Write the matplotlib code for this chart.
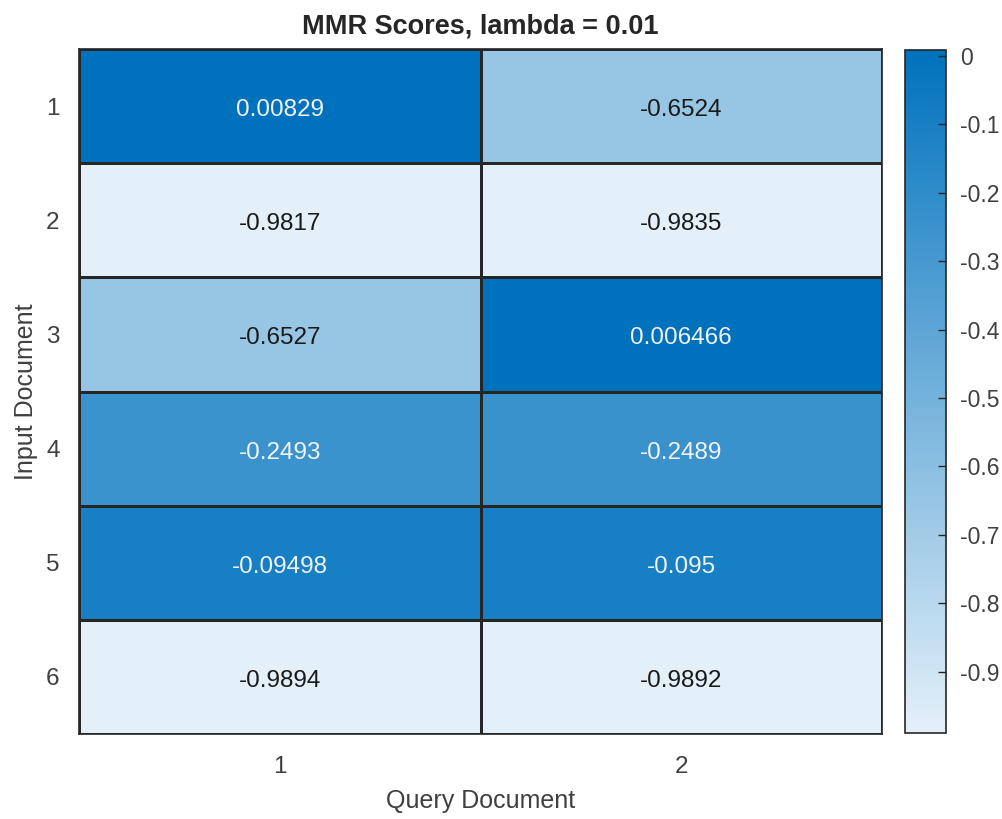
import numpy as np
import matplotlib
matplotlib.use('Agg')
import matplotlib.pyplot as plt
import matplotlib.transforms as mtransforms
from matplotlib.colors import LinearSegmentedColormap

# MMR score table (rows: input documents, columns: query documents)
input_docs = ['1', '2', '3', '4', '5', '6']
query_docs = ['1', '2']
scores_q1 = [0.00829, -0.9817, -0.6527, -0.2493, -0.09498, -0.9894]
scores_q2 = [-0.6524, -0.9835, 0.006466, -0.2489, -0.095, -0.9892]
labels_q1 = ['0.00829', '-0.9817', '-0.6527', '-0.2493', '-0.09498', '-0.9894']
labels_q2 = ['-0.6524', '-0.9835', '0.006466', '-0.2489', '-0.095', '-0.9892']
cbar_ticks = [0, -0.1, -0.2, -0.3, -0.4, -0.5, -0.6, -0.7, -0.8, -0.9]

plt.rcParams['font.family'] = ['Liberation Sans', 'DejaVu Sans']

data = np.column_stack([scores_q1, scores_q2])
labels = np.column_stack([labels_q1, labels_q2])

# matlab heatmap style blue ramp
cmap = LinearSegmentedColormap.from_list(
    'mblue', [(228/255, 240/255, 249/255), (0/255, 114/255, 189/255)])
vmin, vmax = data.min(), data.max()

fig = plt.figure(figsize=(10.02, 8.19), dpi=100)
ax = fig.add_axes([79/1002, 1 - 734/819, 803/1002, 685/819])
mesh = ax.pcolormesh(data, cmap=cmap, vmin=vmin, vmax=vmax,
                     edgecolors='#262626', linewidth=0.8)
ax.set_xlim(0, len(query_docs))
ax.set_ylim(len(input_docs), 0)

# small downward nudge so text sits like matlab's
nudge = mtransforms.ScaledTranslation(0, -4/100, fig.dpi_scale_trans)

for i in range(len(input_docs)):
    for j in range(len(query_docs)):
        t = (data[i, j] - vmin) / (vmax - vmin)
        col = '#f2f2f2' if t > 0.55 else '#1a1a1a'
        ax.text(j + 0.5, i + 0.5, labels[i, j], ha='center', va='center',
                fontsize=17.5, color=col, transform=ax.transData + nudge)

ax.set_xticks(np.arange(len(query_docs)) + 0.5)
ax.set_xticklabels(query_docs)
ax.set_yticks(np.arange(len(input_docs)) + 0.5)
ax.set_yticklabels(input_docs)
for lab in ax.get_yticklabels():
    lab.set_transform(lab.get_transform() + nudge)
ax.tick_params(axis='both', length=0, labelsize=17.5, colors='#404040')
ax.tick_params(axis='y', pad=14)
ax.tick_params(axis='x', pad=16)
for s in ax.spines.values():
    s.set_color('#262626')
    s.set_linewidth(1.2)
ax.set_xlabel('Query Document', fontsize=18, color='#404040', labelpad=8)
ax.set_ylabel('Input Document', fontsize=18, color='#404040', labelpad=6)
ax.set_title('MMR Scores, lambda = 0.01', fontsize=19.5, fontweight='bold',
             color='#262626', pad=11)

cax = fig.add_axes([905/1002, 1 - 733/819, 41/1002, 683/819])
cb = fig.colorbar(mesh, cax=cax)
cb.set_ticks(cbar_ticks)
cb.set_ticklabels(['0', '-0.1', '-0.2', '-0.3', '-0.4', '-0.5', '-0.6',
                   '-0.7', '-0.8', '-0.9'])
cax.tick_params(direction='in', length=6, width=1, labelsize=16.5,
                colors='#262626', labelcolor='#404040', pad=10)
cb.outline.set_edgecolor('#262626')
cb.outline.set_linewidth(1.2)

plt.savefig('out.png', dpi=100)
